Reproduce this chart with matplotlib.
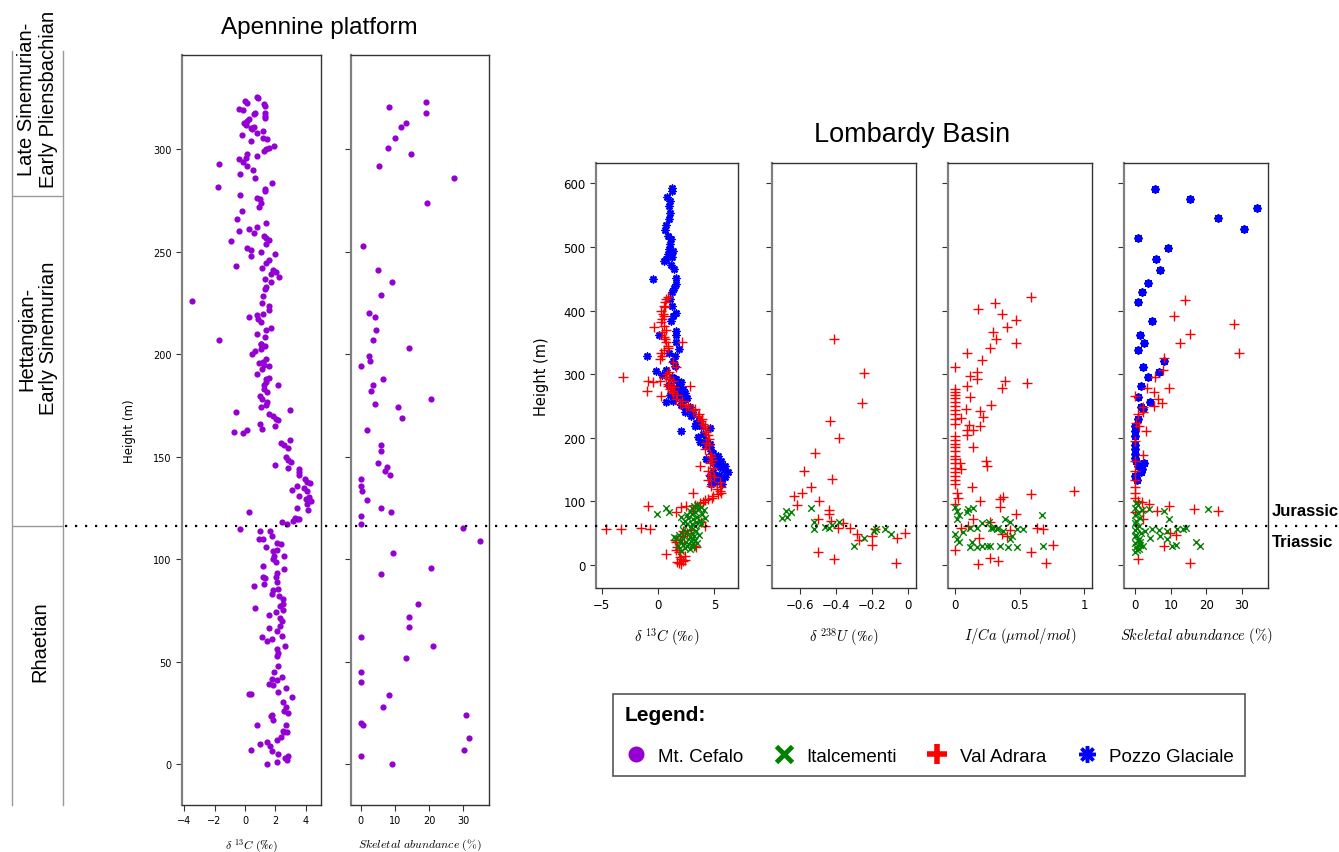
import numpy as np
import matplotlib.pyplot as plt
from matplotlib.lines import Line2D

plt.rcParams['mathtext.fontset'] = 'cm'

# ---------------- Apennine platform : Mt. Cefalo ----------------
cef_d13c = [0.77, 0.83, 0.02, 0.11, 1.27, 1.29, -0.42, -0.11, 0.68, 0.59, 1.29, 1.29, 1.29, 0.24,
            0.11, -0.04, 0.07, 0.37, 0.61, 0.44, 0.77, 1.16, -0.2, 1.16, 1.46, 0.37, 1.55, 1.38,
            1.22, 1.88, 0.11, -0.42, 0.07, -0.11, 0.11, 0.79, -1.73, -0.33, 0.5, 0.68, -1.79, 1.77,
            -0.33, 1.29, 1.33, 0.79, 0.98, 1.07, 0.92, -0.2, -0.5, -0.42, 0.28, 0.61, 0.79, 1.38,
            -0.92, 1.22, 1.38, 1.55, 1.38, 0.11, 0.39, 0.37, 1.07, 1.99, 1.6, 1.38, 1.09, -0.61,
            1.81, 2.03, 2.21, 1.7, 1.29, 1.68, 1.38, 1.33, 1.2, 1.11, 1.6, 1.6, -3.5, 0.28, 0.77,
            0.83, 1.07, 1.16, 1.68, 0.77, 1.38, 1.33, 1.07, 1.29, -1.73, 0.46, 0.68, 1.05, 1.07,
            1.38, 1.16, 0.9, 1.27, 1.55, 1.14, 0.77, 1.38, 1.55, 1.38, 1.25, 1.27, 1.46, 2.16, 0.98,
            1.11, 1.42, 1.38, 1.07, -0.59, 2.97, 1.55, 1.81, 2.03, 2.16, 1.99, 0.98, 1.09, -0.7,
            -0.11, 0.11, 2.38, 2.58, 2.95, 2.8,
            1.99, 2.69, 2.86, 3.02, 2.86, 3.52, 3.52, 3.56, 3.96, 4.11, 4.26, 3.39, 3.08, 3.91, 4.09,
            3.56, 4.04, 4.22, 4.33, 4.11, 4.17, 3.39, 0.28, 3.3, 3.45, 3.56, 3.17, 2.43, 2.73, -0.33,
            0.98, 1.66, 0.9, 1.18, 1.77, 1.38, 2.08, 2.36, 1.81, 2.08, 1.92, 2.58, 1.86, 2.03, 1.16,
            2.58, 2.08, 1.16, 1.33, 2.03, 0.61, 1.27, 2.1, 2.19, 1.81, 1.77, 2.25, 2.47, 2.47, 2.47,
            0.68, 2.32, 2.03, 1.6, 2.32, 2.43, 2.32, 1.6, 2.1, 1.77, 1.11, 1.42, 2.43, 2.08, 2.64,
            2.14, 2.08, 2.14, 1.9, 1.77, 1.6, 1.81, 2.1, 2.14, 2.4, 2.69, 3.08, 0.28, 0.42, 2.51,
            2.69, 2.58, 2.8, 1.77, 1.86, 1.7, 2.69, 2.47, 2.58, 2.73, 2.36, 2.1, 0.77, 0.98, 1.46,
            1.64, 1.77, 2.14, 2.8, 2.73, 2.64, 1.46, 2.08, 0.37]
cef_d13c_h = [325.5, 324.9, 323.6, 322.8, 322.0, 321.1, 319.8, 319.0, 317.9, 317.2, 317.9, 316.3,
              315.4, 314.6, 313.8, 312.7, 311.7, 310.6, 310.9, 309.8, 308.1, 308.9, 306.8, 305.7,
              304.9, 304.1, 300.7, 300.0, 299.0, 301.8, 297.6, 295.1, 295.8, 294.0, 291.9, 296.7,
              292.7, 287.8, 289.9, 285.9, 281.8, 283.7, 277.7, 280.5, 279.7, 276.1, 275.6, 273.7,
              272.0, 269.8, 265.9, 260.0, 261.0, 259.0, 261.9, 263.9, 255.0, 257.7, 256.9, 255.8,
              254.0, 251.9, 250.9, 248.0, 250.1, 249.1, 246.0, 244.7, 242.0, 242.9, 241.1, 240.2,
              237.9, 238.9, 236.9, 235.0, 233.0, 231.7, 228.5, 225.0, 223.3, 221.6, 226.0, 218.0,
              219.0, 217.1, 215.9, 219.8, 213.0, 209.9, 211.7, 208.6, 205.0, 204.1, 206.9, 200.0,
              201.6, 202.3, 204.9, 197.5, 196.4, 195.9, 194.8, 194.0, 193.0, 190.1, 187.8, 188.6,
              186.2, 185.0, 182.9, 181.6, 185.0, 179.7, 178.0, 176.9, 175.1, 174.0, 171.9, 172.8,
              170.7, 169.9, 168.3, 168.0, 165.0, 165.7, 163.7, 161.8, 161.5, 162.9, 156.9, 155.6,
              158.0, 154.1,
              145.9, 149.6, 148.3, 147.2, 144.7, 143.9, 142.3, 141.0, 139.0, 137.7, 136.9, 135.8,
              133.8, 134.6, 133.2, 130.9, 129.3, 130.1, 128.5, 126.8, 124.1, 124.7, 122.8, 120.3,
              119.8, 119.5, 118.7, 117.9, 116.9, 114.6, 113.8, 113.8, 109.8, 109.8, 111.1, 105.7,
              108.1, 107.6, 103.9, 104.6, 101.6, 101.6, 100.0, 98.4, 96.7, 95.1, 93.2, 91.1, 90.9,
              91.1, 87.0, 87.8, 88.6, 85.4, 85.0, 82.9, 82.1, 80.5, 78.0, 75.3, 75.9, 77.2, 74.0,
              72.8, 71.1, 69.9, 67.5, 66.2, 64.7, 61.0, 61.8, 60.2, 62.6, 56.1, 57.7, 54.0, 52.5,
              48.0, 44.7, 41.5, 38.9, 38.5, 41.0, 35.3, 42.6, 36.9, 32.8, 34.0, 34.0, 30.4, 27.6,
              26.0, 24.9, 24.1, 21.3, 23.3, 19.0, 16.3, 15.4, 15.8, 13.0, 11.9, 19.0, 9.9, 10.6,
              8.9, 6.5, 4.9, 3.7, 2.1, 2.9, 0.0, 0.8, 6.8]

cef_skel = [8.3, 19.0, 19.0, 13.3, 11.7, 10.0, 7.9, 14.6, 5.3, 27.4, 19.3, 0.6, 5.0, 9.0, 6.0, 2.4,
            4.0, 4.4, 3.6, 2.4, 2.6, 14.0, 0.0, 6.6, 3.6, 2.9, 4.0, 20.7, 11.0, 12.0, 1.7, 6.0,
            5.8, 5.0, 7.7, 7.1, 8.6, 0.0, 0.0, 0.3, 1.7, 5.8, 8.7, 0.0, 0.0, 29.9, 34.9, 9.3, 20.7,
            5.8, 16.8, 14.1, 14.1, 0.0, 21.1, 13.3, 0.0, 0.0, 8.3, 6.6, 30.8, 0.0, 0.7, 31.6, 30.4,
            0.0, 9.0]
cef_skel_h = [320.8, 322.9, 317.7, 312.8, 310.9, 305.7, 300.8, 297.9, 291.9, 285.9, 273.8, 253.0,
              241.0, 235.0, 228.9, 220.0, 218.0, 212.0, 207.0, 199.0, 196.9, 202.9, 194.0, 187.8,
              184.9, 182.0, 175.9, 178.0, 174.0, 168.9, 162.9, 155.9,
              152.8, 147.0, 145.0, 142.9, 141.0, 139.0, 135.9, 133.0, 128.9, 124.9, 122.9, 121.0,
              116.9, 115.0, 108.8, 102.8, 95.9, 92.8, 77.9, 71.9, 66.8, 61.8, 57.7, 51.9, 44.9,
              39.8, 33.8, 27.8, 23.9, 19.8, 18.9, 12.8, 6.8, 3.9, 0.0]

# ---------------- Lombardy basin ----------------
# Pozzo Glaciale
pg_d13c = [1.27, 1.27, 0.83, 1.1, 0.98, 1.03, 0.98, 0.74, 0.65, 0.89, 1.12, 1.03, 0.95, 1.33, 0.89,
           0.5, 0.74, 1.27, 1.18, 1.39, 1.63, -0.44, 1.57, 1.39, 1.27, 1.03, 1.27, 1.63, 1.33, 1.18,
           1.63, 1.63, 1.57, 1.86, 0.09, 0.95, -0.98, 1.48, 1.33, 1.48, 0.74, -0.21, 0.38, 1.48,
           1.86, 2.22, 1.63, 1.48, 0.74, 2.22, 2.51, 2.96, 3.34, 3.85, 4.59, 2.07, 3.55, 4.14, 4.59,
           4.73, 5.03, 5.18, 5.47, 5.92, 6.21, 5.92, 5.62, 5.18, 5.71, 4.88, 4.29,
           1.2, 1.6, 2.0, 1.0, 1.4, 1.8, 2.4, 1.1, 1.9, 2.6, 1.3, 2.0, 2.8, 2.4, 3.1, 3.6, 3.3, 4.0,
           4.3, 3.7, 4.6, 4.9, 5.3, 5.6, 5.0, 5.9, 5.4, 4.6, 5.1, 4.7]
pg_d13c_h = [592, 588, 578, 573, 565, 554, 544, 534, 526, 518, 513, 505, 497, 494, 489, 478, 481,
             485, 471, 465, 452, 450, 442, 435, 429, 418, 408, 397, 392, 384, 368, 361, 350, 340,
             362, 334, 328, 329, 321, 313, 306, 305, 299, 292, 282, 277, 271, 264, 256, 260, 245,
             235, 224, 219, 215, 211, 201, 188, 190, 180, 169, 159, 154, 156, 146, 138, 133, 135,
             127, 146, 167,
             296, 293, 288, 283, 278, 275, 270, 268, 265, 262, 258, 252, 248, 241, 238, 228, 218,
             206, 196, 194, 186, 176, 172, 163, 160, 150, 142, 140, 131, 128]
pg_skel = [5.6, 15.5, 34.2, 23.2, 30.6, 0.9, 9.3, 6.0, 7.0, 3.6, 1.9, 0.7, 4.7, 1.3, 2.6, 0.7, 8.0,
           2.1, 6.7, 3.6, 1.6, 0.7, 4.3, 1.6, 2.2, 0.7, 0.0, 0.0, 0.0, 0.0, 0.0, 0.0, 0.0, 0.3,
           2.6, 0.9, 1.9, 1.7, 0.0, 0.5]
pg_skel_h = [591, 575, 561, 545, 528, 514, 498, 481, 464, 443, 430, 413, 384, 362, 349, 338, 321,
             312, 303, 295, 282, 264, 257, 248, 245, 230, 219, 211, 203, 189, 182, 175, 168, 164,
             160, 156, 151, 146, 140, 133]

# Val Adrara
va_d13c = [0.89, 0.74, 0.59, 0.5, 0.3, 0.44, 0.38, 0.3, 0.53, -0.38, 0.38, 0.5, 0.74, 2.13, 0.89,
           0.3, 0.15, 0.38, 1.33, 1.57, 0.98, -3.1, 0.74, -0.89, -0.44, 0.15, -0.95, 0.24, 0.89,
           1.03, 1.33, 2.81, 1.63, 1.92, 2.51, 3.1, 3.55, 3.85, 4.14, 4.29, 4.52, 4.14, 4.64, 3.7,
           4.59, 4.44, 4.44, 4.73, 5.47, 5.62, 5.62, 3.1, 4.88, 4.44, 4.0, 3.46, 3.1, -0.89, 2.01,
           1.63, -4.64, -3.31, -1.48, -0.68, 2.22, 1.92, 1.63, 1.69, 3.34, 0.74, 1.63, 1.92, 2.22,
           1.86, 2.37, 2.07, 3.85, 4.14, 2.51,
           0.6, 0.5, 0.7, 0.6, 0.9, 0.5, 0.8, 1.0, 1.3, 0.9, 1.4, 1.2, 1.7, 2.1, 2.7, 3.3, 3.6, 3.9,
           4.0, 4.2, 4.4, 4.3, 4.5, 4.7, 4.8, 4.9, 4.6, 5.0, 5.2, 5.5, 5.3, 4.8, 4.2, 3.7, 3.3, 2.1,
           2.6, 2.3, 1.9, 2.0, 1.7, 2.4, 1.5, 2.9, 3.2]
va_d13c_h = [422, 418, 413, 408, 400, 395, 387, 382, 376, 375, 366, 358, 350, 350, 342, 334, 324,
             329, 319, 311, 303, 295, 295, 290, 287, 290, 274, 265, 282, 277, 271, 282, 261, 253,
             248, 243, 235, 227, 219, 209, 198, 182, 175, 156, 161, 148, 133, 125, 130, 122, 114,
             114, 109, 104, 99, 93, 85, 93, 91, 83, 57, 57, 58, 57, 54, 46, 37, 28, 29, 17, 23, 12,
             7, 4, 15, 2, 67, 62, 93,
             405, 392, 370, 355, 345, 338, 300, 292, 289, 285, 280, 274, 268, 258, 252, 245, 238,
             230, 222, 214, 205, 192, 188, 170, 165, 152, 142, 138, 120, 117, 112, 106, 102, 97, 95,
             45, 50, 35, 20, 10, 5, 8, 40, 55, 30]
va_u = [-0.41, -0.243, -0.257, -0.433, -0.385, -0.515, -0.576, -0.424, -0.539, -0.587, -0.634,
        -0.615, -0.493, -0.437, -0.44, -0.43, -0.498, -0.362, -0.392, -0.325, -0.284, -0.275, -0.2,
        -0.2, -0.061, -0.015, -0.502, -0.41, -0.065, -0.182]
va_u_h = [356, 302, 255, 227, 200, 176, 148, 135, 123, 114, 108, 95, 101, 87, 80, 70, 72, 66, 58,
          58, 49, 40, 46, 31, 43, 51, 20, 10, 3, 57]
va_ica = [0.585, 0.309, 0.175, 0.361, 0.472, 0.4, 0.291, 0.317, 0.472, 0.273, 0.09, 0.211, 0.0,
          0.168, 0.116, 0.168, 0.387, 0.554, 0.361, 0.09, 0.116, 0.276, 0.085, 0.193, 0.219, 0.044,
          0.193, 0.111, 0.095, 0.142, 0.09, 0.137, 0.24, 0.25, 0.039, 0.044, 0.129,
          0.0, 0.0, 0.0, 0.0, 0.0, 0.0, 0.0, 0.0, 0.0, 0.0, 0.0, 0.0, 0.0, 0.0, 0.0, 0.0, 0.0,
          0.0, 0.0, 0.0, 0.0, 0.0, 0.0,
          0.013, 0.026, 0.0, 0.193, 0.348, 0.369, 0.348, 0.585, 0.923, 0.472, 0.137, 0.044, 0.103,
          0.27, 0.425, 0.361, 0.4, 0.631, 0.683, 0.755, 0.186, 0.0, 0.271, 0.335, 0.18, 0.585,
          0.704]
va_ica_h = [421, 412, 403, 394, 385, 375, 366, 356, 349, 342, 334, 322, 312, 303, 298, 292, 290,
            286, 279, 282, 264, 252, 246, 242, 233, 231, 219, 220, 213, 213, 205, 185, 164, 155,
            160, 151, 123,
            277, 272, 267, 262, 256, 250, 243, 237, 229, 222, 203, 197, 191, 185, 179, 172, 166,
            160, 152, 146, 140, 133, 127,
            114, 106, 96, 101, 104, 107, 91, 112, 116, 80, 72, 59, 62, 67, 55, 49, 46, 58, 56, 31,
            42, 24, 11, 7, 1, 20, 3]
va_skel = [14.1, 11.0, 27.9, 15.5, 12.6, 29.3, 8.2, 7.8, 5.6, 3.3, 9.6, 5.2, 6.3, 7.6, 5.2, 0.0,
           2.3, 2.3, 0.9, 0.3, 1.2, 3.0, 0.0, 2.3, 0.0, 0.0, 0.0, 0.0, 0.0, 0.0, 0.9, 1.9, 4.0, 9.4,
           16.4, 23.2, 6.1, 2.3, 9.8, 11.5, 8.0, 0.9, 15.3, 2.3, 0.0]
va_skel_h = [417, 391, 379, 363, 349, 333, 325, 307, 295, 278, 278, 272, 261, 255, 250, 265, 248,
             241, 237, 224, 219, 210, 195, 173, 164, 148, 133, 122, 114, 106, 101, 99, 96, 93, 88,
             85, 85, 85, 51, 47, 30, 10, 3, 72, 83]

# Italcementi
it_d13c = [1.0, -0.1, 0.7, 2.0, 2.4, 2.6, 2.8, 3.0, 3.2, 3.5, 3.8, 3.6, 3.3, 3.0, 2.7, 3.1, 3.5, 3.9,
           4.1, 3.4, 3.0, 2.6, 2.2, 3.7, 4.2, 3.3, 3.8, 2.9,
           2.2, 2.6, 3.0, 3.4, 1.9, 2.3, 2.8, 3.2, 3.6, 1.6, 2.0, 2.5, 2.9, 3.3, 2.2, 2.6, 3.0, 3.5,
           1.4, 2.4, 2.8, 3.1, 1.8, 2.0]
it_d13c_h = [83, 80, 89, 75, 70, 78, 85, 90, 93, 95, 92, 88, 84, 80, 74, 72, 76, 80, 86, 68, 65, 64,
             66, 70, 74, 62, 64, 60,
             55, 52, 50, 53, 48, 45, 44, 46, 48, 42, 38, 37, 38, 40, 32, 30, 32, 34, 44, 27, 25, 28,
             30, 22]
it_u = [-0.699, -0.68, -0.674, -0.65, -0.539, -0.522, -0.52, -0.461, -0.442, -0.42, -0.385, -0.303,
        -0.247, -0.191, -0.177, -0.13, -0.093]
it_u_h = [74, 85, 76, 83, 90, 68, 57, 60, 59, 63, 67, 30, 42, 53, 56, 57, 49]
it_ica = [0.0, 0.013, 0.034, 0.018, 0.09, 0.142, 0.103, 0.0, 0.013, 0.034, 0.064, 0.116, 0.168,
          0.206, 0.265, 0.278, 0.322, 0.374, 0.425, 0.387, 0.477, 0.528, 0.675, 0.116, 0.129, 0.168,
          0.206, 0.245, 0.271, 0.348, 0.412, 0.482, 0.683, 0.425, 0.438, 0.296, 0.335]
it_ica_h = [91, 85, 79, 72, 84, 89, 88, 49, 41, 37, 52, 59, 59, 66, 67, 58, 56, 54, 67, 73, 57, 56,
            78, 28, 36, 29, 30, 30, 30, 30, 29, 29, 30, 41, 46, 58, 58]
it_skel = [20.6, 9.4, 8.0, 4.0, 2.8, 4.7, 6.6, 8.9, 11.7, 13.4, 14.3, 4.2, 7.0, 8.9, 10.3, 11.5, 17.2,
           18.3, 1.4, 2.3,
           0.0, 0.5, 1.0, 0.2, 1.5, 0.0, 0.8, 1.2, 0.0, 0.4, 1.8, 0.0, 0.6, 1.1, 0.0, 0.3, 1.4, 0.0,
           0.7, 2.0, 0.0, 0.9, 0.2]
it_skel_h = [88, 73, 85, 88, 54, 56, 55, 54, 57, 56, 58, 43, 46, 41, 30, 32, 37, 30, 36, 30,
             20, 23, 26, 29, 32, 35, 38, 41, 45, 48, 51, 55, 58, 62, 66, 70, 74, 78, 82, 86, 90, 94,
             98]

# Triassic-Jurassic boundary height in each area, and the stage boundary above it (Apennine)
apennine_tj = 116
lombardy_tj = 60
apennine_sin = 277

# colours / markers
c_cef, c_it, c_va, c_pg = '#9400D3', '#008000', '#FF0000', '#0000FF'
star = (8, 2, 0)

W, H = 1339, 853
fig = plt.figure(figsize=(W / 100, H / 100), dpi=100)


def box(x0, x1, y0, y1):
    return fig.add_axes([x0 / W, 1 - y1 / H, (x1 - x0) / W, (y1 - y0) / H])


def style(ax, size):
    for s in ax.spines.values():
        s.set_color('#333333')
        s.set_linewidth(1.0)
    ax.spines['left'].set_color('#808080')
    ax.spines['left'].set_linewidth(1.6)
    ax.tick_params(direction='out', length=4, width=0.8, color='#333333', labelsize=size)


# ---- Apennine axes ----
a1 = box(182, 321, 56, 806)
a2 = box(351, 489, 56, 806)
for ax in (a1, a2):
    style(ax, 7)
    ax.set_ylim(-20, 346)
    ax.set_yticks(range(0, 301, 50))
a1.scatter(cef_d13c, cef_d13c_h, s=20, color=c_cef, lw=0)
a1.set_xlim(-4.15, 5.0)
a1.set_xticks([-4, -2, 0, 2, 4])
a1.set_ylabel('Height (m)', fontsize=8.5, family=['Liberation Sans Narrow', 'DejaVu Sans'],
              labelpad=12)
a1.set_xlabel(r'$\delta\ ^{13}C\ (‰)$', fontsize=8.5, labelpad=8)
a2.scatter(cef_skel, cef_skel_h, s=20, color=c_cef, lw=0)
a2.set_xlim(-2.9, 37.6)
a2.set_xticks([0, 10, 20, 30])
a2.set_yticklabels([])
a2.set_xlabel(r'$Skeletal\ abundance\ (\%)$', fontsize=8.5, labelpad=8)

# ---- stage column, sharing the Apennine height scale ----
st = box(12, 63, 56, 806)
st.set_ylim(a1.get_ylim())
st.set_xlim(0, 1)
st.set_xticks([])
st.set_yticks([])
for k in ('top', 'bottom'):
    st.spines[k].set_visible(False)
for k in ('left', 'right'):
    st.spines[k].set_color('#999999')
    st.spines[k].set_linewidth(1.0)
    st.spines[k].set_bounds(-20, 348)
for b in (apennine_tj, apennine_sin):
    st.axhline(b, color='#999999', lw=1.0)
stage_font = dict(rotation=90, ha='center', va='center', fontsize=14.5, clip_on=False,
                  family=['Liberation Sans Narrow', 'Liberation Sans', 'DejaVu Sans'])
st.text(0.5, 325, 'Late Sinemurian-\nEarly Pliensbachian', **stage_font)
st.text(0.5, 208, 'Hettangian-\nEarly Sinemurian', **stage_font)
st.text(0.55, 60, 'Rhaetian', **stage_font)

# ---- Lombardy axes ----
lx = [(596, 738), (772, 916), (948, 1092), (1124, 1268)]
lax = [box(x0, x1, 164, 589) for x0, x1 in lx]
for i, ax in enumerate(lax):
    style(ax, 8.5)
    ax.set_ylim(-36, 632)
    ax.set_yticks(range(0, 601, 100))
    if i:
        ax.set_yticklabels([])
l1, l2, l3, l4 = lax

l1.scatter(pg_d13c, pg_d13c_h, s=22, marker=star, color=c_pg, lw=1.2)
l1.scatter(va_d13c, va_d13c_h, s=42, marker='+', color=c_va, lw=1.0)
l1.scatter(it_d13c, it_d13c_h, s=22, marker='x', color=c_it, lw=1.0)
l1.set_xlim(-5.5, 7.1)
l1.set_xticks([-5, 0, 5])
l1.set_ylabel('Height (m)', fontsize=10.5, labelpad=10)
l1.set_xlabel(r'$\delta\ ^{13}C\ (‰)$', fontsize=10.5, labelpad=10)

l2.scatter(va_u, va_u_h, s=42, marker='+', color=c_va, lw=1.0)
l2.scatter(it_u, it_u_h, s=22, marker='x', color=c_it, lw=1.0)
l2.set_xlim(-0.756, 0.044)
l2.set_xticks([-0.6, -0.4, -0.2, 0])
l2.set_xticklabels(['\u22120.6', '\u22120.4', '\u22120.2', '0'])
l2.set_xlabel(r'$\delta\ ^{238}U\ (‰)$', fontsize=10.5, labelpad=10)

l3.scatter(va_ica, va_ica_h, s=42, marker='+', color=c_va, lw=1.0)
l3.scatter(it_ica, it_ica_h, s=22, marker='x', color=c_it, lw=1.0)
l3.set_xlim(-0.054, 1.06)
l3.set_xticks([0, 0.5, 1])
l3.set_xticklabels(['0', '0.5', '1'])
l3.set_xlabel(r'$I/Ca\ (\mathrm{\mu} mol/mol)$', fontsize=10.5, labelpad=10)

l4.scatter(pg_skel, pg_skel_h, s=26, marker=star, color=c_pg, lw=1.4)
l4.scatter(va_skel, va_skel_h, s=42, marker='+', color=c_va, lw=1.0)
l4.scatter(it_skel, it_skel_h, s=22, marker='x', color=c_it, lw=1.0)
l4.set_xlim(-3.1, 37.3)
l4.set_xticks([0, 10, 20, 30])
l4.set_xlabel(r'$Skeletal\ abundance\ (\%)$', fontsize=10.5, labelpad=10)

# ---- Triassic / Jurassic boundary across the whole figure ----
yb = fig.transFigure.inverted().transform(a1.transData.transform((0, apennine_tj)))[1]
fig.add_artist(Line2D([65 / W, 1.0], [yb, yb], transform=fig.transFigure, color='black',
                      lw=1.6, ls=(0, (1, 3.5))))
bold = dict(fontsize=12, weight='bold', family=['Liberation Sans', 'DejaVu Sans'],
            ha='left', va='center')
fig.text(1272 / W, yb + 16 / H, 'Jurassic', **bold)
fig.text(1272 / W, yb - 15 / H, 'Triassic', **bold)

# ---- titles ----
tfont = dict(family=['Liberation Sans', 'DejaVu Sans'], ha='center', va='center')
fig.text(319 / W, 1 - 28 / H, 'Apennine platform', fontsize=17.5, **tfont)
fig.text(912 / W, 1 - 135 / H, 'Lombardy Basin', fontsize=19.5, **tfont)

# ---- legend ----
handles = [
    Line2D([], [], ls='', marker='o', markersize=10.5, color=c_cef),
    Line2D([], [], ls='', marker='x', markersize=12, mew=3.5, color=c_it),
    Line2D([], [], ls='', marker='+', markersize=14, mew=4, color=c_va),
    Line2D([], [], ls='', marker=star, markersize=12, mew=2.5, color=c_pg),
]
labels = ['Mt. Cefalo', 'Italcementi', 'Val Adrara', 'Pozzo Glaciale']
leg = fig.legend(handles, labels, loc='upper left', ncol=4, mode='expand',
                 bbox_to_anchor=(613 / W, 1 - 695 / H, 632 / W, 0), borderaxespad=0,
                 title='Legend:', alignment='left',
                 title_fontproperties={'weight': 'bold', 'size': 15, 'family': 'Liberation Sans'},
                 prop={'family': 'Liberation Sans', 'size': 13.5},
                 frameon=True, fancybox=False, framealpha=1, edgecolor='#555555',
                 borderpad=0.6, handletextpad=0.6, handlelength=1.2, labelspacing=1.25)
leg.get_frame().set_linewidth(1.2)

fig.savefig('out.png', dpi=100)
